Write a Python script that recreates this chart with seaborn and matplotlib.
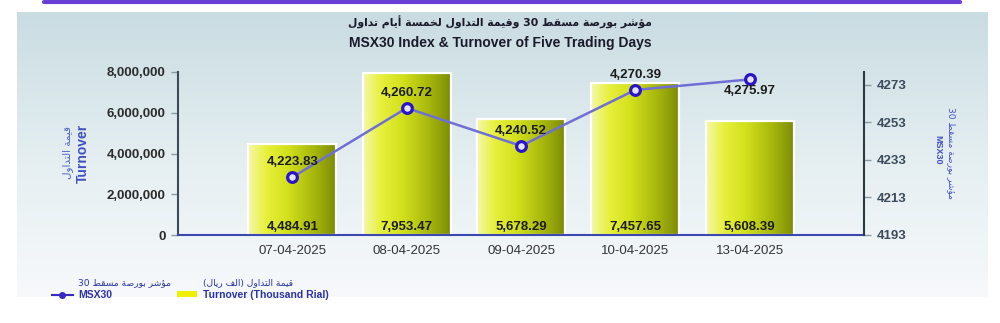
import re
import numpy as np
import pandas as pd
import matplotlib
matplotlib.use("Agg")
import matplotlib.pyplot as plt
import seaborn as sns
from matplotlib.lines import Line2D
from matplotlib.patches import Patch
from matplotlib.colors import LinearSegmentedColormap

# ---------------- data ----------------
dates = ["07-04-2025", "08-04-2025", "09-04-2025", "10-04-2025", "13-04-2025"]
turnover_k = [4484.91, 7953.47, 5678.29, 7457.65, 5608.39]      # thousand rial
msx30 = [4223.83, 4260.72, 4240.52, 4270.39, 4275.97]
left_ticks = [0, 2000000, 4000000, 6000000, 8000000]
right_ticks = [4193, 4213, 4233, 4253, 4273]

title_ar = "مؤشر بورصة مسقط 30 وقيمة التداول لخمسة أيام تداول"
title_en = "MSX30 Index & Turnover of Five Trading Days"
ylab_left_ar = "قيمة التداول"
ylab_left_en = "Turnover"
ylab_right_ar = "مؤشر بورصة مسقط 30"
ylab_right_en = "MSX30"
leg_line_ar = "مؤشر بورصة مسقط 30"
leg_line_en = "MSX30"
leg_bar_ar = "قيمة التداول (الف ريال)"
leg_bar_en = "Turnover (Thousand Rial)"

# ---------------- minimal Arabic shaping (presentation forms) ----------------
FORMS = {
    'ا': (0xFE8D, 0xFE8E, None, None), 'أ': (0xFE83, 0xFE84, None, None),
    'ؤ': (0xFE85, 0xFE86, None, None), 'ب': (0xFE8F, 0xFE90, 0xFE91, 0xFE92),
    'ة': (0xFE93, 0xFE94, None, None), 'ت': (0xFE95, 0xFE96, 0xFE97, 0xFE98),
    'خ': (0xFEA5, 0xFEA6, 0xFEA7, 0xFEA8), 'د': (0xFEA9, 0xFEAA, None, None),
    'ر': (0xFEAD, 0xFEAE, None, None), 'س': (0xFEB1, 0xFEB2, 0xFEB3, 0xFEB4),
    'ش': (0xFEB5, 0xFEB6, 0xFEB7, 0xFEB8), 'ص': (0xFEB9, 0xFEBA, 0xFEBB, 0xFEBC),
    'ط': (0xFEC1, 0xFEC2, 0xFEC3, 0xFEC4), 'ف': (0xFED1, 0xFED2, 0xFED3, 0xFED4),
    'ق': (0xFED5, 0xFED6, 0xFED7, 0xFED8), 'ل': (0xFEDD, 0xFEDE, 0xFEDF, 0xFEE0),
    'م': (0xFEE1, 0xFEE2, 0xFEE3, 0xFEE4), 'و': (0xFEED, 0xFEEE, None, None),
    'ي': (0xFEF1, 0xFEF2, 0xFEF3, 0xFEF4),
}


def ar(text):
    out = []
    n = len(text)
    for i, ch in enumerate(text):
        f = FORMS.get(ch)
        if f is None:
            out.append(ch)
            continue
        prev = text[i - 1] if i > 0 else None
        nxt = text[i + 1] if i < n - 1 else None
        jp = prev in FORMS and FORMS[prev][2] is not None
        jn = f[2] is not None and nxt in FORMS
        if jp and jn:
            c = f[3]
        elif jp:
            c = f[1]
        elif jn:
            c = f[2]
        else:
            c = f[0]
        out.append(chr(c))
    s = "".join(out)[::-1]
    s = re.sub(r"[0-9]+", lambda m: m.group(0)[::-1], s)
    return s.translate(str.maketrans("()", ")("))


FAM = ["Liberation Sans", "DejaVu Sans"]
FAM_AR = ["DejaVu Sans"]
plt.rcParams["font.family"] = FAM

W, H = 1000, 323
fig = plt.figure(figsize=(W / 100, H / 100), dpi=100)
fig.patch.set_facecolor("white")


def fx(px):
    return px / W


def fy(py):
    return 1 - py / H


# background panel with vertical gradient
bg = fig.add_axes([fx(17), fy(297), fx(988 - 17), (297 - 12) / H], zorder=-10)
bg_cmap = LinearSegmentedColormap.from_list("bg", ["#c9dce2", "#e4eef1", "#f7f9fb"])
bg.imshow(np.linspace(0, 1, 256).reshape(-1, 1), aspect="auto", cmap=bg_cmap,
          extent=[0, 1, 0, 1])
bg.set_axis_off()

# purple frame remnant at top
fig.add_artist(Line2D([fx(44), fx(960)], [fy(1.5), fy(1.5)], color="#6a3fd8",
                      lw=3, solid_capstyle="round"))

# main axes
ax = fig.add_axes([fx(178), fy(235), fx(864 - 178), (235 - 72) / H])
ax.set_facecolor("none")

df = pd.DataFrame({"date": dates, "turnover": np.array(turnover_k) * 1000})
sns.barplot(data=df, x="date", y="turnover", ax=ax, width=0.77, color="#dce628",
            saturation=1, edgecolor="white", linewidth=1.6)

bar_cmap = LinearSegmentedColormap.from_list(
    "bar", [(0, "#f4f8a8"), (0.2, "#e8f03c"), (0.45, "#d2e01c"),
            (0.75, "#a6b60c"), (1.0, "#7a8a06")])
grad = np.linspace(0, 1, 256).reshape(1, -1)
for p in list(ax.patches):
    x0, y0 = p.get_x(), p.get_y()
    w, h = p.get_width(), p.get_height()
    im = ax.imshow(grad, extent=[x0, x0 + w, y0, y0 + h], aspect="auto",
                   cmap=bar_cmap, zorder=2, interpolation="bilinear")
    im.set_clip_path(p)
    p.set_facecolor("none")
    p.set_zorder(3)

ax.set_xlim(-1, len(dates))
ax.set_ylim(0, 8000000)
ax.set_yticks(left_ticks)
ax.set_yticklabels([f"{t:,}" for t in left_ticks], fontsize=9.5,
                   fontweight="bold", color="#2b2b2b")
ax.set_xticks(range(len(dates)))
ax.set_xticklabels(dates, fontsize=9.5, color="#333333")
ax.set_xlabel("")
ax.set_ylabel("")
ax.tick_params(axis="y", length=5, width=1, color="#8a9aa0", pad=4)
ax.tick_params(axis="x", length=0, pad=7)
for s in ["top", "right"]:
    ax.spines[s].set_visible(False)
ax.spines["left"].set_color("#3c4b57")
ax.spines["left"].set_linewidth(1.5)
ax.spines["bottom"].set_color("#3a48b0")
ax.spines["bottom"].set_linewidth(1.5)
ax.spines["bottom"].set_zorder(4)

for i, v in enumerate(turnover_k):
    ax.annotate(f"{v:,.2f}", (i, 0), xytext=(0, 6), textcoords="offset points",
                ha="center", va="center", fontsize=9.5, fontweight="bold",
                color="#1c1c1c", zorder=5)

# index line
ax2 = ax.twinx()
ax2.set_facecolor("none")
sns.lineplot(x=np.arange(len(dates)), y=msx30, ax=ax2, color="#6f6fd6", lw=1.8,
             marker="o", markersize=7, markeredgecolor="#2a14c8",
             markerfacecolor="#e4e4ff", markeredgewidth=2.3)
ax2.set_ylim(4193, 4193 + 163 / 1.875)
ax2.set_xlim(-1, len(dates))
ax2.set_yticks(right_ticks)
ax2.set_yticklabels([str(t) for t in right_ticks], fontsize=9.5,
                    fontweight="bold", color="#3b4b5b")
ax2.tick_params(axis="y", length=5, width=1, color="#8a9aa0", pad=4)
for s in ["top", "left", "bottom"]:
    ax2.spines[s].set_visible(False)
ax2.spines["right"].set_color("#2b3a40")
ax2.spines["right"].set_linewidth(1.5)

for i, v in enumerate(msx30):
    dy = 11 if i < len(msx30) - 1 else -8
    ax2.annotate(f"{v:,.2f}", (i, v), xytext=(0, dy), textcoords="offset points",
                 ha="center", va="center", fontsize=9.5, fontweight="bold",
                 color="#1c1c1c")

# titles
fig.text(0.5, fy(22), ar(title_ar), ha="center", va="center", fontsize=7.8,
         fontweight="bold", color="#1a1a2a", family=FAM_AR)
fig.text(0.5, fy(43), title_en, ha="center", va="center", fontsize=10,
         fontweight="bold", color="#1a1a2a")

# axis labels
fig.text(fx(68), fy(153), ar(ylab_left_ar), rotation=90, ha="center", va="center",
         fontsize=7.5, color="#5060c8", family=FAM_AR)
fig.text(fx(83), fy(153), ylab_left_en, rotation=90, ha="center", va="center",
         fontsize=10, fontweight="bold", color="#4050c0")
fig.text(fx(951), fy(153), ar(ylab_right_ar), rotation=-90, ha="center",
         va="center", fontsize=6.5, color="#4a50c4", family=FAM_AR)
fig.text(fx(938), fy(150), ylab_right_en, rotation=-90, ha="center", va="center",
         fontsize=6.5, fontweight="bold", color="#4050c0")

# legend (English labels; Arabic line written above each)
handles = [
    Line2D([], [], color="#3a2ac0", lw=1.5, marker="o", markersize=4,
           markerfacecolor="#3a2ac0"),
    Patch(facecolor="#eef000", edgecolor="none"),
]
leg = fig.legend(handles, [leg_line_en, leg_bar_en],
                 loc="center left", bbox_to_anchor=(fx(52), fy(295)), ncol=2,
                 frameon=False, prop={"size": 7.5, "weight": "bold"},
                 labelcolor="#2a32a8", handlelength=2.0, handleheight=0.55,
                 handletextpad=0.5, columnspacing=6.2, borderpad=0,
                 borderaxespad=0)
fig.text(fx(78), fy(283), ar(leg_line_ar), ha="left", va="center", fontsize=6.6,
         color="#2a32a8", family=FAM_AR)
fig.text(fx(203), fy(283), ar(leg_bar_ar), ha="left", va="center", fontsize=6.6,
         color="#2a32a8", family=FAM_AR)

fig.savefig("out.png", dpi=100, facecolor="white")
